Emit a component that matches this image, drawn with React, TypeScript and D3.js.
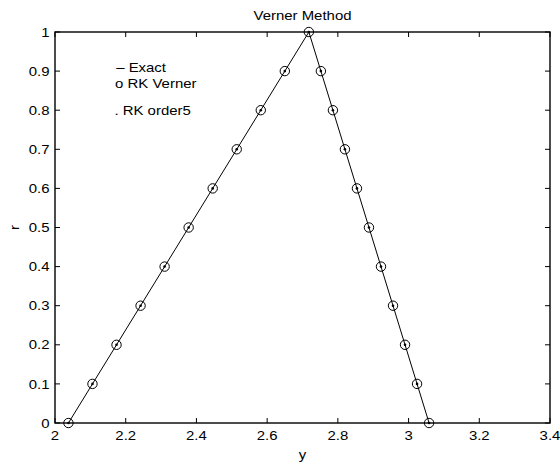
import React from "react";
import * as d3 from "d3";

const rValues = [0, 0.1, 0.2, 0.3, 0.4, 0.5, 0.6, 0.7, 0.8, 0.9, 1.0];
const leftY = [2.038, 2.106, 2.174, 2.242, 2.310, 2.378, 2.446, 2.514, 2.582, 2.650, 2.718];
const rightY = [3.058, 3.024, 2.990, 2.956, 2.922, 2.888, 2.854, 2.820, 2.786, 2.752, 2.718];
const xTicks = [2, 2.2, 2.4, 2.6, 2.8, 3, 3.2, 3.4];
const yTicks = [0, 0.1, 0.2, 0.3, 0.4, 0.5, 0.6, 0.7, 0.8, 0.9, 1];
const legendLines = ["\u2013 Exact", "o RK Verner", ". RK order5"];
const legendPos = [
  [2.173, 0.898],
  [2.17, 0.857],
  [2.168, 0.788],
];

const W = 560;
const H = 464;
const L = 55, R = 550, T = 32, B = 423;
const FONT = "'Liberation Sans', Arial, Helvetica, sans-serif";
const FS = 13;
const SX = 1.15;

function Txt({ x, y, anchor = "start", children, rotate = 0 }: any) {
  const tr = rotate
    ? `translate(${x},${y}) rotate(${rotate}) scale(${SX},1)`
    : `translate(${x},${y}) scale(${SX},1)`;
  return (
    <text transform={tr} textAnchor={anchor} fontFamily={FONT} fontSize={FS} fill="#000">
      {children}
    </text>
  );
}

export default function App() {
  const x = d3.scaleLinear().domain([2, 3.4]).range([L, R]);
  const y = d3.scaleLinear().domain([0, 1]).range([B, T]);

  const pts: [number, number][] = [];
  rValues.forEach((r, i) => pts.push([leftY[i], r]));
  for (let i = rValues.length - 2; i >= 0; i--) pts.push([rightY[i], rValues[i]]);
  const line = d3.line<[number, number]>().x((d) => x(d[0])).y((d) => y(d[1]));

  const markers: [number, number][] = [];
  rValues.forEach((r, i) => {
    markers.push([leftY[i], r]);
    if (i < rValues.length - 1) markers.push([rightY[i], r]);
  });

  const tl = 5;
  return (
    <svg width={W} height={H} style={{ position: "absolute", left: 0, top: 0, background: "#fff" }}>
      <rect x={0} y={0} width={W} height={H} fill="#fff" />
      {/* ticks */}
      {xTicks.map((t) => (
        <g key={"xt" + t}>
          <line x1={x(t)} x2={x(t)} y1={B} y2={B - tl} stroke="#000" strokeWidth={1} />
          <line x1={x(t)} x2={x(t)} y1={T} y2={T + tl} stroke="#000" strokeWidth={1} />
          <Txt x={x(t)} y={439.5} anchor="middle">{String(t)}</Txt>
        </g>
      ))}
      {yTicks.map((t) => (
        <g key={"yt" + t}>
          <line x1={L} x2={L + tl} y1={y(t)} y2={y(t)} stroke="#000" strokeWidth={1} />
          <line x1={R} x2={R - tl} y1={y(t)} y2={y(t)} stroke="#000" strokeWidth={1} />
          <Txt x={49.5} y={y(t) + 4.6} anchor="end">{String(t)}</Txt>
        </g>
      ))}
      <rect x={L} y={T} width={R - L} height={B - T} fill="none" stroke="#000" strokeWidth={1.4} />
      {/* data */}
      <path d={line(pts) || ""} fill="none" stroke="#000" strokeWidth={1} />
      {markers.map((d, i) => (
        <circle key={"c" + i} cx={x(d[0])} cy={y(d[1])} r={4.7} fill="none" stroke="#000" strokeWidth={1} />
      ))}
      {markers.map((d, i) => (
        <circle key={"d" + i} cx={x(d[0])} cy={y(d[1])} r={1.3} fill="#000" />
      ))}
      {/* labels */}
      <Txt x={(L + R) / 2} y={20} anchor="middle">Verner Method</Txt>
      <Txt x={(L + R) / 2} y={459} anchor="middle">y</Txt>
      <Txt x={19} y={(T + B) / 2} anchor="middle" rotate={-90}>r</Txt>
      {legendLines.map((s, i) => (
        <Txt key={"lg" + i} x={x(legendPos[i][0])} y={y(legendPos[i][1])}>{s}</Txt>
      ))}
    </svg>
  );
}
